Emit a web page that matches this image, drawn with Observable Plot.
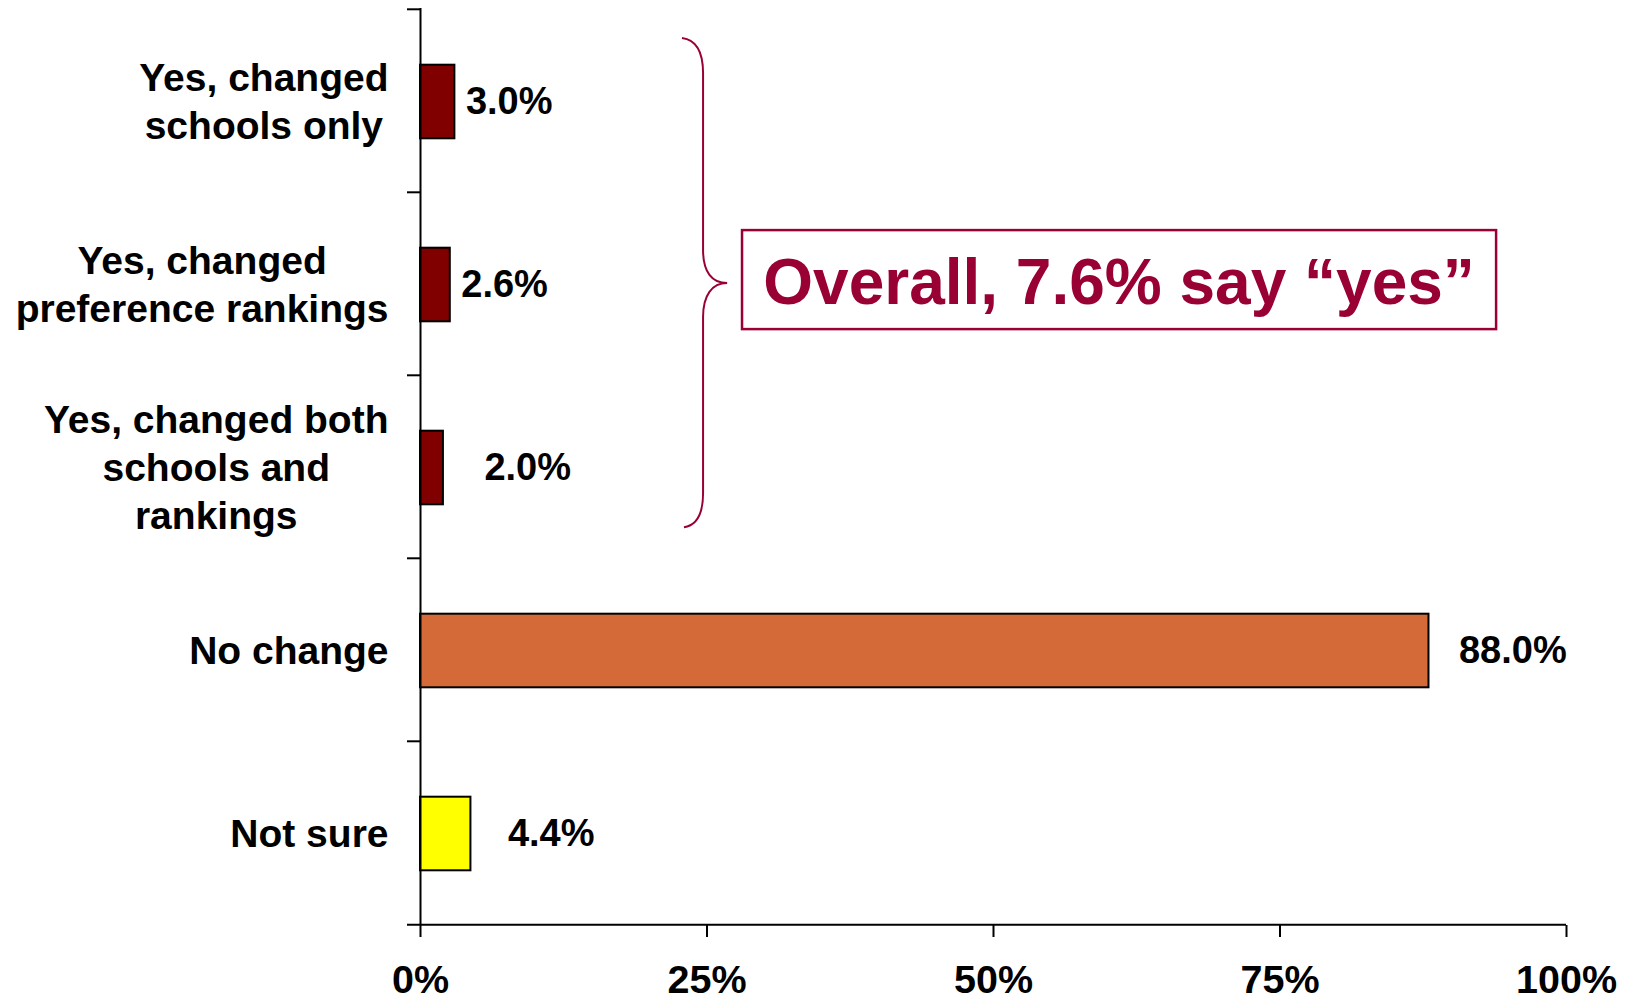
<!DOCTYPE html>
<html><head><meta charset="utf-8">
<script src="https://cdn.jsdelivr.net/npm/d3@7"></script>
<script src="https://cdn.jsdelivr.net/npm/@observablehq/plot@0.6"></script>
<style>
html,body{margin:0;padding:0;background:#fff}
#chart svg{display:block}
#chart g[aria-label="x-axis tick"]{stroke-width:2}
#chart .tick line{stroke-width:2}
</style>
</head><body><div id="chart"></div>
<script>
// ---- data ----
const categories = ["Yes, changed\nschools only", "Yes, changed\npreference rankings", "Yes, changed both\nschools and\nrankings", "No change", "Not sure"];
const values = [3.0, 2.6, 2.0, 88.0, 4.4];
const valueLabels = ["3.0%", "2.6%", "2.0%", "88.0%", "4.4%"];
const barColors = ["#800000", "#800000", "#800000", "#D36A37", "#FFFF00"];
const xTicks = [0, 25, 50, 75, 100];
const xTickLabels = ["0%", "25%", "50%", "75%", "100%"];
const annotationText = "Overall, 7.6% say \u201Cyes\u201D";

// ---- layout/style ----
const W = 1632, H = 997;
const M = {top: 8, right: 66, bottom: 72, left: 420};
const FONT = "'Liberation Sans', Arial, Helvetica, sans-serif";
const FS = 38;        // value labels
const FS_CAT = 39;    // category labels
const FS_TICK = 39.5; // tick labels
const labelGaps = [11, 11, 41, 30, 37];
const step = (H - M.top - M.bottom) / categories.length;
const barH = 74;
const inset = (step - barH) / 2;
const crimson = "#990033";

const rows = categories.map((c, i) => ({category: c, value: values[i], label: valueLabels[i], color: barColors[i]}));

// measure label widths for centered multi-line category labels
const ctx = document.createElement("canvas").getContext("2d");
ctx.font = `bold ${FS_CAT}px ${FONT}`;
const catDx = categories.map(c => {
  const w = d3.max(c.split("\n"), l => ctx.measureText(l).width);
  return -(32 + w / 2);
});

const marks = [
  Plot.barX(rows, {y: "category", x: "value", fill: "color", stroke: "black", strokeWidth: 2, insetTop: inset + 1, insetBottom: inset - 1}),
  ...rows.map((r, i) => Plot.text([r], {x: "value", y: "category", text: "label", textAnchor: "start", dx: labelGaps[i], dy: 1, fontSize: FS, fontWeight: "bold", fill: "black"})),
  ...rows.map((r, i) => Plot.text([r], {x: () => 0, y: "category", text: "category", textAnchor: "middle", dx: catDx[i], dy: -1, lineHeight: 1.23, fontSize: FS_CAT, fontWeight: "bold", fill: "black"})),
  // y axis line
  Plot.ruleX([0], {stroke: "black", strokeWidth: 2}),
  // category boundary ticks
  Plot.ruleY(categories, {y: d => d, x1: 0, x2: 0, insetLeft: -13, dy: -step / 2, stroke: "black", strokeWidth: 2}),
  // x axis line
  Plot.ruleY([categories[categories.length - 1]], {y: d => d, x1: 0, x2: 100, insetLeft: -13, dy: step / 2, stroke: "black", strokeWidth: 2})
];

const plot = Plot.plot({
  width: W, height: H,
  marginTop: M.top, marginRight: M.right, marginBottom: M.bottom, marginLeft: M.left,
  style: {fontFamily: FONT, fontSize: FS_TICK + "px", fontWeight: "bold", color: "black", background: "white", overflow: "visible"},
  x: {domain: [0, 100], ticks: xTicks, tickFormat: d => xTickLabels[xTicks.indexOf(d)], tickSize: 12, tickPadding: 27, label: null},
  y: {type: "band", domain: categories, padding: 0, axis: null},
  color: {type: "identity"},
  marks
});
document.getElementById("chart").appendChild(plot);

// ---- annotation: brace and boxed callout, positioned via the plot's scales ----
const xs = plot.scale("x"), ys = plot.scale("y");
const sx = d3.scaleLinear(xs.domain, xs.range);
const sy = d3.scaleBand(ys.domain, ys.range).padding(0);
const svg = d3.select(plot.tagName.toLowerCase() === "svg" ? plot : plot.querySelector("svg"));
const g = svg.append("g");

const bTop = sy(categories[0]) + 30;
const bBot = sy(categories[2]) + step - 31;
const bMid = sy(categories[1]) + step / 2;
const xl = sx(22.86), xv = sx(24.7), xt = sx(26.8);
const path = `M${xl},${bTop} C${xl + 16},${bTop + 2} ${xv},${bTop + 17} ${xv},${bTop + 35}
 L${xv},${bMid - 33} C${xv},${bMid - 11} ${xv + 9},${bMid} ${xt},${bMid}
 C${xv + 9},${bMid} ${xv},${bMid + 12} ${xv},${bMid + 34}
 L${xv},${bBot - 34} C${xv},${bBot - 15} ${xl + 16},${bBot - 2} ${xl + 2},${bBot}`;
g.append("path").attr("d", path).attr("fill", "none").attr("stroke", crimson).attr("stroke-width", 2);

const bx1 = sx(28.1), bx2 = sx(93.9);
g.append("rect").attr("x", bx1).attr("y", bMid - 53).attr("width", bx2 - bx1).attr("height", 99)
  .attr("fill", "white").attr("stroke", crimson).attr("stroke-width", 2.5);
g.append("text").attr("x", (bx1 + bx2) / 2).attr("y", bMid + 21).attr("text-anchor", "middle")
  .attr("fill", crimson).style("font", `bold 64px ${FONT}`).text(annotationText);
</script>
</body></html>
